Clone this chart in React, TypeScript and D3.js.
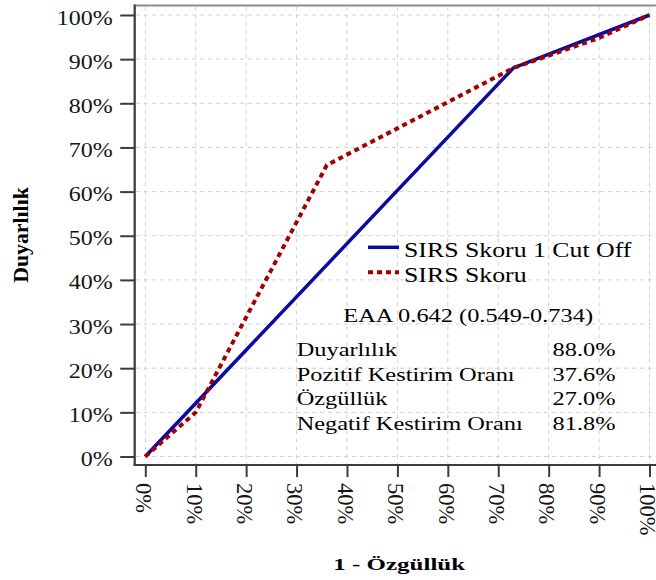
import React, { useRef, useEffect } from "react";
import * as d3 from "d3";

// ROC curve points (1 - specificity, sensitivity), in percent
const cutOffFpr = [0, 73, 100];
const cutOffTpr = [0, 88, 100];
const scoreFpr = [0, 10, 36, 73, 80, 90, 100];
const scoreTpr = [0, 10, 66, 88, 90.8, 94.8, 100];

const seriesNames = ["SIRS Skoru 1 Cut Off", "SIRS Skoru"];
const pctTicks = [0, 10, 20, 30, 40, 50, 60, 70, 80, 90, 100];

const aucText = "EAA 0.642 (0.549-0.734)";
const statLabels = ["Duyarlılık", "Pozitif Kestirim Oranı", "Özgüllük", "Negatif Kestirim Oranı"];
const statValues = ["88.0%", "37.6%", "27.0%", "81.8%"];

const W = 656;
const H = 580;
const FONT = "'Liberation Serif', 'Times New Roman', serif";
const BLUE = "#0b0ba3";
const RED = "#a30000";

function App() {
  const ref = useRef<SVGSVGElement>(null);

  useEffect(() => {
    const svg = d3.select(ref.current);
    svg.selectAll("*").remove();

    const left = 134.7, top = 5.5, bottom = 465, right = 662;

    const x = d3.scaleLinear().domain([0, 100]).range([145.3, 649.5]);
    const y = d3.scaleLinear().domain([0, 100]).range([456.5, 15]);

    // wall border
    svg.append("rect")
      .attr("x", left).attr("y", top)
      .attr("width", right - left).attr("height", bottom - top)
      .attr("fill", "white")
      .attr("stroke", "#8c8c8c")
      .attr("stroke-width", 2);

    // grid
    const grid = svg.append("g")
      .attr("stroke", "#cfcfcf")
      .attr("stroke-width", 1)
      .attr("stroke-dasharray", "4,4");
    grid.selectAll(".gy").data(pctTicks).enter().append("line")
      .attr("x1", left + 1).attr("x2", right)
      .attr("y1", (d) => y(d)).attr("y2", (d) => y(d));
    grid.selectAll(".gx").data(pctTicks).enter().append("line")
      .attr("y1", top + 1).attr("y2", bottom)
      .attr("x1", (d) => x(d)).attr("x2", (d) => x(d));

    // axes
    const yAxis = svg.append("g")
      .attr("transform", `translate(${left},0)`)
      .call(d3.axisLeft(y).tickValues(pctTicks).tickSize(14.5).tickSizeOuter(0).tickFormat((d) => d + "%"));
    const xAxis = svg.append("g")
      .attr("transform", `translate(0,${bottom})`)
      .call(d3.axisBottom(x).tickValues(pctTicks).tickSize(12).tickSizeOuter(0).tickFormat((d) => d + "%"));

    [yAxis, xAxis].forEach((g) => {
      g.select(".domain").remove();
      g.selectAll("line").attr("stroke", "#3c3c3c").attr("stroke-width", 2);
      g.attr("font-family", FONT).attr("font-size", null);
    });

    yAxis.selectAll("text")
      .attr("x", null)
      .attr("dy", "0.41em")
      .attr("fill", "#151515")
      .attr("font-size", 22)
      .attr("text-anchor", "end")
      .attr("transform", "translate(-22,0) scale(1.09,1)");

    xAxis.selectAll("text")
      .attr("y", null)
      .attr("dy", "0.43em")
      .attr("fill", "#151515")
      .attr("font-size", 22.5)
      .attr("text-anchor", "start")
      .attr("transform", "translate(0,18) rotate(90)");

    // axis lines (left, bottom)
    svg.append("line")
      .attr("x1", left).attr("x2", left).attr("y1", top - 1).attr("y2", bottom + 1)
      .attr("stroke", "#3c3c3c").attr("stroke-width", 2);
    svg.append("line")
      .attr("x1", left - 1).attr("x2", right).attr("y1", bottom).attr("y2", bottom)
      .attr("stroke", "#3c3c3c").attr("stroke-width", 2);

    // curves
    const line = d3.line<[number, number]>()
      .x((d) => x(d[0]))
      .y((d) => y(d[1]));

    const cutOff = cutOffFpr.map((f, i) => [f, cutOffTpr[i]] as [number, number]);
    const score = scoreFpr.map((f, i) => [f, scoreTpr[i]] as [number, number]);

    svg.append("path")
      .attr("d", line(cutOff))
      .attr("fill", "none")
      .attr("stroke", BLUE)
      .attr("stroke-width", 3.5);

    svg.append("path")
      .attr("d", line(score))
      .attr("fill", "none")
      .attr("stroke", RED)
      .attr("stroke-width", 4)
      .attr("stroke-dasharray", "5,4");

    // legend
    const legend = svg.append("g").attr("font-family", FONT).attr("font-size", 20).attr("fill", "#000");
    const legendRows = [
      { name: seriesNames[0], color: BLUE, dash: null, width: 3.5, base: 256.7 },
      { name: seriesNames[1], color: RED, dash: "5,4", width: 4, base: 281.7 },
    ];
    legendRows.forEach((r) => {
      legend.append("line")
        .attr("x1", 368).attr("x2", 399)
        .attr("y1", r.base - 9.4).attr("y2", r.base - 9.4)
        .attr("stroke", r.color)
        .attr("stroke-width", r.width)
        .attr("stroke-dasharray", r.dash);
      legend.append("text")
        .attr("transform", `translate(404,${r.base}) scale(1.29,1)`)
        .text(r.name);
    });

    // statistics box
    const stats = svg.append("g").attr("font-family", FONT).attr("font-size", 19.5).attr("fill", "#000");
    stats.append("text")
      .attr("transform", "translate(343.3,321.7) scale(1.25,1)")
      .text(aucText);
    statLabels.forEach((lab, i) => {
      const base = 356 + i * 24.7;
      stats.append("text")
        .attr("transform", `translate(296.7,${base}) scale(1.25,1)`)
        .text(lab);
      stats.append("text")
        .attr("text-anchor", "end")
        .attr("transform", `translate(615.5,${base}) scale(1.25,1)`)
        .text(statValues[i]);
    });

    // axis titles
    svg.append("text")
      .attr("font-family", FONT)
      .attr("font-weight", "bold")
      .attr("font-size", 17)
      .attr("text-anchor", "middle")
      .attr("transform", "translate(399.2,570) scale(1.47,1)")
      .text("1 - Özgüllük");

    svg.append("text")
      .attr("font-family", FONT)
      .attr("font-weight", "bold")
      .attr("font-size", 20)
      .attr("text-anchor", "middle")
      .attr("transform", "translate(28,235) rotate(-90) scale(1.09,1)")
      .text("Duyarlılık");
  }, []);

  return (
    <svg
      ref={ref}
      width={W}
      height={H}
      style={{ position: "absolute", left: 0, top: 0, background: "white" }}
    />
  );
}

export default App;
